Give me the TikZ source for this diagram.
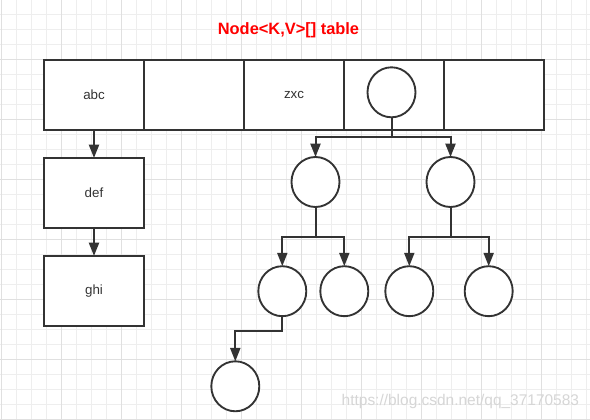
\documentclass[tikz,border=0pt]{standalone}
\usepackage{fontspec}
\setsansfont{Liberation Sans}
\usepackage{tikz}
\usetikzlibrary{arrows.meta,positioning,shapes.geometric}
\definecolor{ink}{HTML}{333333}
\definecolor{gridminor}{HTML}{EEEEEE}
\definecolor{gridmajor}{HTML}{E0E0E0}
\definecolor{wm}{HTML}{D6D6D6}

\begin{document}
\begin{tikzpicture}[x=0.75pt, y=-0.75pt, node distance=21pt, font=\sffamily]
\tikzstyle{cell}=[draw=ink, line width=1.5pt, fill=white, minimum width=75pt, minimum height=52.5pt, inner sep=0pt, outer sep=0pt, text=ink, font=\sffamily\fontsize{10}{12}\selectfont]
\tikzstyle{ball}=[ellipse, draw=ink, line width=1.4pt, fill=white, minimum width=36pt, minimum height=37.5pt, inner sep=0pt, outer sep=0pt]
\tikzstyle{link}=[draw=ink, line width=1.5pt, -{Triangle[length=10pt, width=7.5pt]}]
\useasboundingbox (0,0) rectangle (590,420);
\fill[white] (0,0) rectangle (590,420);
% grid
\foreach \i in {0,...,39} {
  \draw[gridminor, line width=0.75pt] ({1.7+15*\i},0) -- ({1.7+15*\i},420);
}
\foreach \j in {1,...,28} {
  \draw[gridminor, line width=0.75pt] (0,{-0.7+15*\j}) -- (590,{-0.7+15*\j});
}
\foreach \i in {0,...,9} {
  \draw[gridmajor, line width=0.75pt] ({1.7+60*\i},0) -- ({1.7+60*\i},420);
}
\foreach \j in {1,...,7} {
  \draw[gridmajor, line width=0.75pt] (0,{-0.7+60*\j}) -- (590,{-0.7+60*\j});
}

\node[anchor=base, text=red, font=\sffamily\bfseries\fontsize{12.3}{14}\selectfont] (title) at (288.5,35) {Node<K,V>[] table};

% table
\node[cell] (abc) at (94,95) {abc};
\node[cell, right=0pt of abc] (empty1) {};
\node[cell, right=0pt of empty1] (zxc) {zxc};
\node[cell, right=0pt of zxc] (bin) {};
\node[cell, right=0pt of bin] (empty2) {};

% linked list
\node[cell, below=of abc] (def) {def};
\node[cell, below=of def] (ghi) {ghi};
\draw[link] (abc) -- (def);
\draw[link] (def) -- (ghi);

% red-black tree
\node[ball] (root) at (391.5,92.3) {};
\node[ball] (left) at (315.5,182) {};
\node[ball] (right) at (450.5,182) {};
\node[ball] (ll) at (282.3,291.2) {};
\node[ball] (lr) at (344.3,291.2) {};
\node[ball] (rl) at (409.3,291.2) {};
\node[ball] (rr) at (488.7,291.2) {};
\node[ball] (lll) at (235.3,386.3) {};

\draw[link] (root.south) -- ++(0,20) -| (left.north);
\draw[link] (root.south) -- ++(0,20) -| (right.north);
\draw[link] (left.south) -- ++(0,30) -| (ll.north);
\draw[link] (left.south) -- ++(0,30) -| (lr.north);
\draw[link] (right.south) -- ++(0,30) -| (rl.north);
\draw[link] (right.south) -- ++(0,30) -| (rr.north);
\draw[link] (ll.south) -- ++(0,15) -| (lll.north);

\node[anchor=base west, text=wm, font=\sffamily\fontsize{11.6}{14}\selectfont] (url) at (337,406) {https://blog.csdn.net/qq\_37170583};
\end{tikzpicture}
\end{document}
